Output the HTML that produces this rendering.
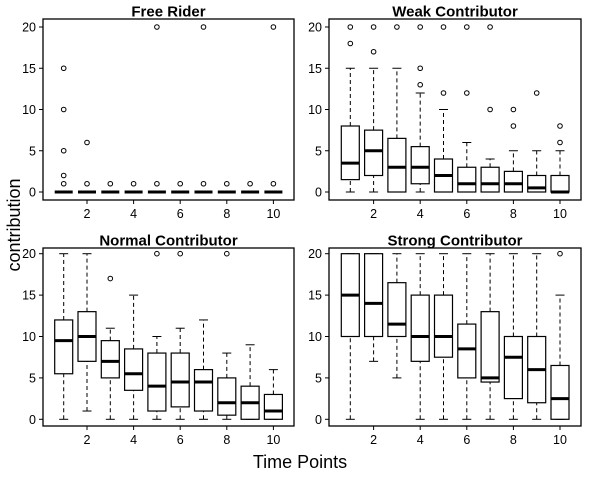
<!DOCTYPE html>
<html><head><meta charset="utf-8"><style>
body{margin:0;background:#fff;}
svg{display:block;font-family:"Liberation Sans",Arial,sans-serif;}
</style></head><body>
<svg id="chart" width="589" height="485" viewBox="0 0 589 485"></svg>
<script>
const timePoints = [1,2,3,4,5,6,7,8,9,10];
const xTickLabels = [2,4,6,8,10];
const yTickLabels = [0,5,10,15,20];
const panelTitles = ["Free Rider","Weak Contributor","Normal Contributor","Strong Contributor"];
// [lowWhisker, q1, median, q3, highWhisker]
const freeRiderStats = [[0,0,0,0,0],[0,0,0,0,0],[0,0,0,0,0],[0,0,0,0,0],[0,0,0,0,0],[0,0,0,0,0],[0,0,0,0,0],[0,0,0,0,0],[0,0,0,0,0],[0,0,0,0,0]];
const freeRiderOutliers = [[1,2,5,10,15],[1,6],[1],[1],[1,20],[1],[1,20],[1],[1],[1,20]];
const weakStats = [[0,1.5,3.5,8,15],[0,2,5,7.5,15],[0,0,3,6.5,15],[0,1,3,5.5,12],[0,0,2,4,10],[0,0,1,3,6],[0,0,1,3,4],[0,0,1,2.5,5],[0,0,0.5,2,5],[0,0,0,2,5]];
const weakOutliers = [[18,20],[17,20],[20],[13,15,20],[12,20],[12,20],[10,20],[8,10],[12],[6,8]];
const normalStats = [[0,5.5,9.5,12,20],[1,7,10,13,20],[0,5,7,9.5,11],[0,3.5,5.5,8.5,15],[0,1,4,8,10],[0,1.5,4.5,8,11],[0,1,4.5,6,12],[0,0.5,2,5,8],[0,0,2,4,9],[0,0,1,3,6]];
const normalOutliers = [[],[],[17],[],[20],[20],[],[20],[],[]];
const strongStats = [[0,10,15,20,20],[7,10,14,20,20],[5,10,11.5,16.5,20],[0,7,10,15,20],[0,7.5,10,15,20],[0,5,8.5,11.5,20],[0,4.5,5,13,20],[0,2.5,7.5,10,20],[0,2,6,10,20],[0,0,2.5,6.5,15]];
const strongOutliers = [[],[],[],[],[],[],[],[],[],[20]];

const allStats=[freeRiderStats,weakStats,normalStats,strongStats];
const allOut=[freeRiderOutliers,weakOutliers,normalOutliers,strongOutliers];
const panels=[
 {fx:43,fy:19,fw:251,fh:181,x1:63.7,y0:192,y20:27},
 {fx:329,fy:19,fw:252,fh:181,x1:350.3,y0:192,y20:27},
 {fx:43,fy:248,fw:251,fh:178,x1:63.7,y0:419.3,y20:253.7},
 {fx:329,fy:248,fw:252,fh:178,x1:350.3,y0:419.3,y20:253.7}];
const step=23.3, hw=9;
const svg=document.getElementById('chart');
const NS='http://www.w3.org/2000/svg';
function mk(tag,attrs,parent,name){const e=document.createElementNS(NS,tag);for(const k in attrs)e.setAttribute(k,attrs[k]);


(parent||svg).appendChild(e);return e;}
panels.forEach((p,pi)=>{
 const g=mk('g',{},svg,'panel-'+(pi+1));
 const X=t=>p.x1+(t-1)*step;
 const Y=v=>p.y0+(p.y20-p.y0)*v/20;
 const t=mk('text',{x:p.fx+p.fw/2,y:p.fy-2.5,'text-anchor':'middle','font-size':'15','font-weight':'bold'},g,'panel-title');
 t.textContent=panelTitles[pi];
 mk('rect',{x:p.fx,y:p.fy,width:p.fw,height:p.fh,fill:'none',stroke:'#000','stroke-width':1.3},g,'panel-frame');
 yTickLabels.forEach(v=>{
  mk('line',{x1:p.fx-4,x2:p.fx,y1:Y(v),y2:Y(v),stroke:'#000'},g,'y-tick');
  const l=mk('text',{x:p.fx-7,y:Y(v)+4.5,'text-anchor':'end','font-size':'12.5'},g,'y-tick-label');l.textContent=v;
 });
 xTickLabels.forEach(v=>{
  mk('line',{x1:X(v),x2:X(v),y1:p.fy+p.fh,y2:p.fy+p.fh+4,stroke:'#000'},g,'x-tick');
  const l=mk('text',{x:X(v),y:p.fy+p.fh+18,'text-anchor':'middle','font-size':'12.5'},g,'x-tick-label');l.textContent=v;
 });
 allStats[pi].forEach((s,i)=>{
  const cx=X(timePoints[i]);
  const bg=mk('g',{},g,'box-t'+timePoints[i]);
  mk('line',{x1:cx,x2:cx,y1:Y(s[0]),y2:Y(s[1]),stroke:'#000','stroke-dasharray':'4,3'},bg,'lower-whisker');
  mk('line',{x1:cx,x2:cx,y1:Y(s[3]),y2:Y(s[4]),stroke:'#000','stroke-dasharray':'4,3'},bg,'upper-whisker');
  mk('line',{x1:cx-4.5,x2:cx+4.5,y1:Y(s[0]),y2:Y(s[0]),stroke:'#000'},bg,'lower-cap');
  mk('line',{x1:cx-4.5,x2:cx+4.5,y1:Y(s[4]),y2:Y(s[4]),stroke:'#000'},bg,'upper-cap');
  mk('rect',{x:cx-hw,y:Y(s[3]),width:2*hw,height:Math.max(0,Y(s[1])-Y(s[3])),fill:'#fff',stroke:'#000','stroke-width':1.2},bg,'iqr-box');
  mk('line',{x1:cx-hw,x2:cx+hw,y1:Y(s[2]),y2:Y(s[2]),stroke:'#000','stroke-width':3},bg,'median-line');
  allOut[pi][i].forEach(o=>mk('circle',{cx:cx,cy:Y(o),r:2.3,fill:'none',stroke:'#000','stroke-width':1},bg,'outlier'));
 });
});
const yl=mk('text',{x:0,y:0,'text-anchor':'middle','font-size':'18',transform:'translate(20,225) rotate(-90)'},svg,'y-axis-title');yl.textContent='contribution';
const xl=mk('text',{x:300,y:468,'text-anchor':'middle','font-size':'18'},svg,'x-axis-title');xl.textContent='Time Points';
</script>
</body></html>
